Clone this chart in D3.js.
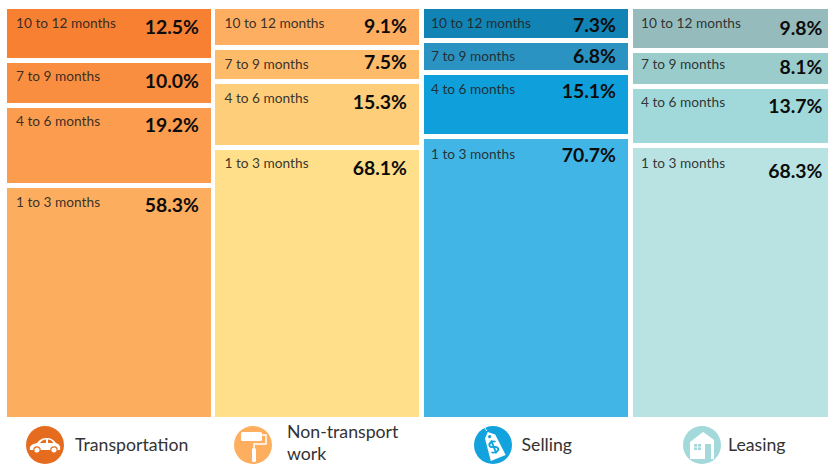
<!DOCTYPE html>
<html><head><meta charset="utf-8">
<script src="https://cdn.jsdelivr.net/npm/d3@7"></script>
<style>html,body{margin:0;padding:0;background:#fff}svg{display:block}
text{font-family:"Lato",sans-serif}</style></head><body>
<script>
const categories = ["Transportation","Non-transport work","Selling","Leasing"];
const durations = ["10 to 12 months","7 to 9 months","4 to 6 months","1 to 3 months"];
const transportation = [12.5,10.0,19.2,58.3];
const nonTransport = [9.1,7.5,15.3,68.1];
const selling = [7.3,6.8,15.1,70.7];
const leasing = [9.8,8.1,13.7,68.3];
const seriesValues = [transportation,nonTransport,selling,leasing];
const cellColors = [
 ["#F78033","#FA8E40","#FC9C4E","#FDAD5E"],
 ["#FDAE60","#FEBC6B","#FFCE7B","#FFDF8A"],
 ["#1283B5","#2B93C1","#0F9FDB","#41B6E6"],
 ["#95BBBD","#9ACCCC","#A1D9DA","#B9E3E2"]];
const iconColors = ["#E56C1F","#FDAE5F","#12A2DD","#A3D9DA"];
const pctBaseline = [[25,25,24,24],[24,19,25,25],[23,20,23,23],[26,21,24,30]];
const labelBaseline = [[19,18,18,19],[19,19,19,18],[19,18,19,20],[19,16,18,20]];
const labelInset = [9,9.5,7,8];

const W=828,H=464,chartTop=9,chartBottom=417,gap=5;
const svg=d3.select("body").append("svg").attr("width",W).attr("height",H);
const x=d3.scaleBand().domain(categories).range([7,837]).paddingInner(0.0224);
const h=d3.scaleLinear().domain([0,100]).range([0,393.8]);

categories.forEach((cat,c)=>{
  const X=Math.floor(x(cat));
  const g=svg.append("g");
  let cum=0;
  seriesValues[c].forEach((v,i)=>{
    const y0=Math.round(chartTop+h(cum)+gap*i);
    cum+=v;
    const y1= i===3 ? chartBottom : Math.round(chartTop+h(cum)+gap*i);
    g.append("rect").attr("x",X).attr("y",y0).attr("width",Math.round(x.bandwidth())).attr("height",y1-y0).attr("fill",cellColors[c][i]);
    g.append("text").attr("x",X+labelInset[c]).attr("y",y0+labelBaseline[c][i]).attr("font-size",13.7)
      .attr("fill","#222").attr("fill-opacity",.9).text(durations[i]);
    g.append("text").attr("x",Math.min(X+192,822.5)).attr("y",y0+pctBaseline[c][i]).attr("text-anchor","end")
      .attr("font-size",19.4).attr("font-weight",700).attr("fill","#0c0c0c").text(v.toFixed(1)+"%");
  });
});

// legend
const cy=445,r=19;
const cx=[45,253,493,702], tx=[75,287,521.5,728];
categories.forEach((cat,c)=>{
  svg.append("circle").attr("cx",cx[c]).attr("cy",cy).attr("r",r).attr("fill",iconColors[c]);
  const t=svg.append("text").attr("font-size",17.7).attr("fill","#333");
  if(c===1){
    t.append("tspan").attr("x",tx[c]).attr("y",438).text("Non-transport");
    t.append("tspan").attr("x",tx[c]).attr("y",460).text("work");
  } else t.attr("x",tx[c]).attr("y",451).text(cat);
});
// car
const car=svg.append("g").attr("transform",`translate(45,445)`).attr("fill","#fff");
car.append("path").attr("d","M-15,5 C-16,1 -13,-1 -8,-2 C-5,-6 -2,-7 2,-7 C6,-7 9,-5 11,-2 C14,-1 16,1 15,5 Z");
car.append("path").attr("d","M-5,-2 C-3,-5 -1,-5.5 1,-5.5 L1,-2 Z M3,-2 L3,-5.5 C5,-5.5 7,-4.5 8.5,-2 Z").attr("fill","#E56C1F");
car.selectAll("circle").data([-8,9]).join("circle").attr("cx",d=>d).attr("cy",5).attr("r",3.2).attr("fill","#fff").attr("stroke","#E56C1F").attr("stroke-width",1.2);
// roller
const ro=svg.append("g").attr("transform","translate(253,445)").attr("fill","#fff");
ro.append("rect").attr("x",-12).attr("y",-13).attr("width",21).attr("height",9).attr("rx",1.5);
ro.append("path").attr("d","M9,-10 H13 V-1 H1 V3").attr("fill","none").attr("stroke","#fff").attr("stroke-width",1.5);
ro.append("rect").attr("x",-1).attr("y",3).attr("width",4).attr("height",14).attr("rx",1.5);
// tag
const tag=svg.append("g").attr("transform","translate(493,445) rotate(-22)");
tag.append("path").attr("d","M-5,-9 L0,-14 L6,-9 L8,14 L-8,14 Z").attr("fill","#fff");
tag.append("circle").attr("cx",0).attr("cy",-9).attr("r",1.6).attr("fill","#12A2DD");
tag.append("path").attr("d","M3.5,-2 C2,-4 -3.5,-4 -3.5,-0.5 C-3.5,3 3.5,1.5 3.5,5 C3.5,8.5 -3,8 -4,6 M0,-5 V9").attr("fill","none").attr("stroke","#12A2DD").attr("stroke-width",1.8);
svg.append("path").attr("d","M487,431 C484,428 485,425 487,425").attr("fill","none").attr("stroke","#fff").attr("stroke-width",1);
// house
const ho=svg.append("g").attr("transform","translate(702,445)");
ho.append("path").attr("d","M-12,14 V-3 L1,-13 L4,-11 L12,-5 V14 Z").attr("fill","#fff");
ho.append("rect").attr("x",-8).attr("y",-1).attr("width",7).attr("height",6).attr("fill","#A3D9DA");
ho.append("path").attr("d","M-4.5,-1 V5 M-8,2 H-1").attr("stroke","#fff").attr("stroke-width",.8);
ho.append("rect").attr("x",3).attr("y",-1).attr("width",6).attr("height",15).attr("fill","#A3D9DA");
</script></body></html>
